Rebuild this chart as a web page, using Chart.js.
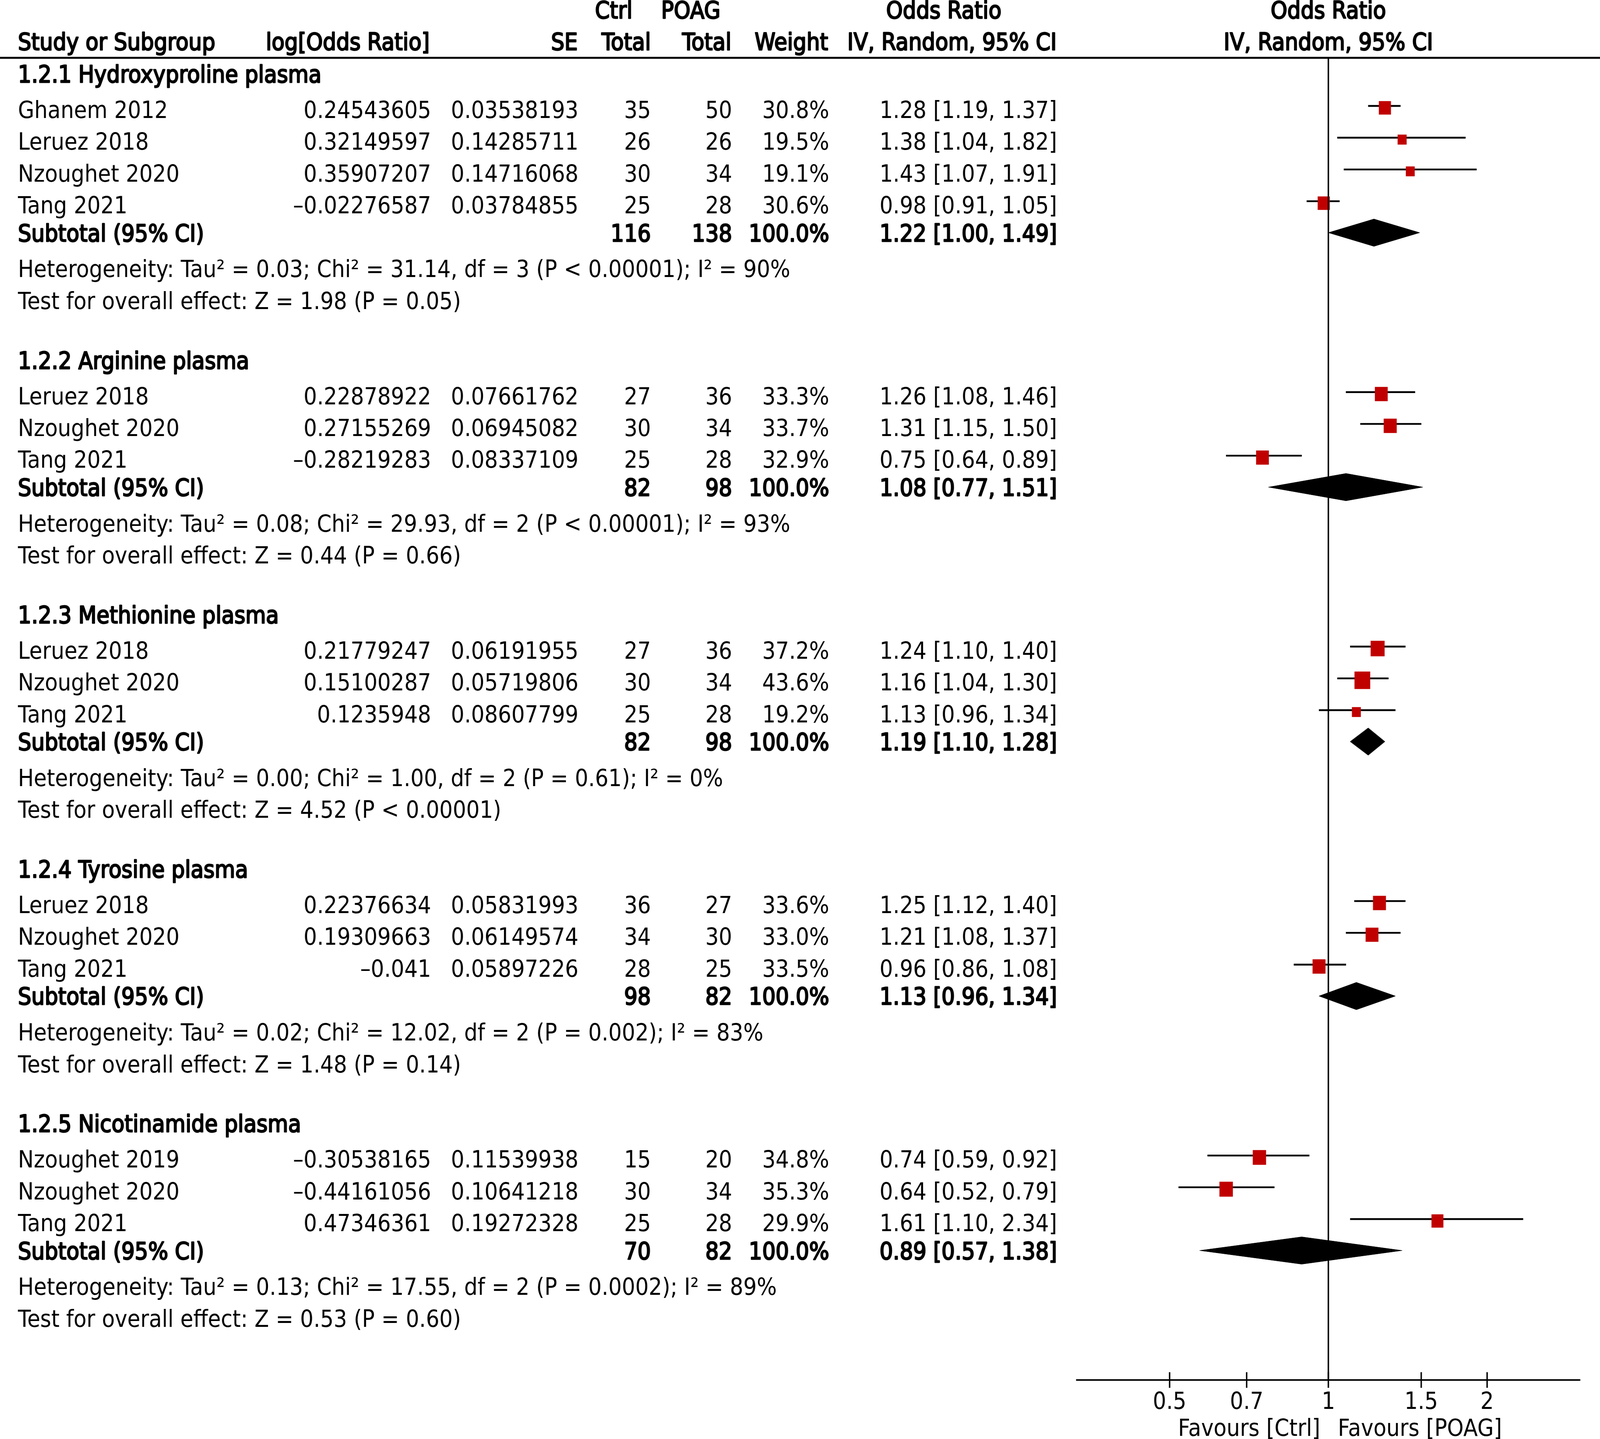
<!DOCTYPE html>
<html>
<head>
<meta charset="utf-8">
<script src="https://cdn.jsdelivr.net/npm/chart.js@4.4.1/dist/chart.umd.min.js"></script>
<style>
  html, body { margin: 0; padding: 0; background: #fff; overflow: hidden; }
  #wrap { width: 100vw; height: 100vh; }
  #forest { display: block; width: 100%; height: 100%; }
</style>
</head>
<body>
<div id="wrap"><canvas id="forest" width="4550" height="3683" style="width:100%;height:100%"></canvas></div>
<script>
// subgroups
const groupTitles = [
    '1.2.1 Hydroxyproline plasma',
    '1.2.2 Arginine plasma',
    '1.2.3 Methionine plasma',
    '1.2.4 Tyrosine plasma',
    '1.2.5 Nicotinamide plasma'
];

// studies
const studyGroup = [0, 0, 0, 0, 1, 1, 1, 2, 2, 2, 3, 3, 3, 4, 4, 4];
const studyNames = [
    'Ghanem 2012', 'Leruez 2018', 'Nzoughet 2020', 'Tang 2021',
    'Leruez 2018', 'Nzoughet 2020', 'Tang 2021',
    'Leruez 2018', 'Nzoughet 2020', 'Tang 2021',
    'Leruez 2018', 'Nzoughet 2020', 'Tang 2021',
    'Nzoughet 2019', 'Nzoughet 2020', 'Tang 2021'
];
const logOR = [
    0.24543605, 0.32149597, 0.35907207, -0.02276587,
    0.22878922, 0.27155269, -0.28219283,
    0.21779247, 0.15100287, 0.1235948,
    0.22376634, 0.19309663, -0.041,
    -0.30538165, -0.44161056, 0.47346361
];
const seVals = [
    0.03538193, 0.14285711, 0.14716068, 0.03784855,
    0.07661762, 0.06945082, 0.08337109,
    0.06191955, 0.05719806, 0.08607799,
    0.05831993, 0.06149574, 0.05897226,
    0.11539938, 0.10641218, 0.19272328
];
const ctrlTotal = [35, 26, 30, 25, 27, 30, 25, 27, 30, 25, 36, 34, 28, 15, 30, 25];
const poagTotal = [50, 26, 34, 28, 36, 34, 28, 36, 34, 28, 27, 30, 25, 20, 34, 28];
const weights = [30.8, 19.5, 19.1, 30.6, 33.3, 33.7, 32.9, 37.2, 43.6, 19.2, 33.6, 33.0, 33.5, 34.8, 35.3, 29.9];
const orVals = [1.28, 1.38, 1.43, 0.98, 1.26, 1.31, 0.75, 1.24, 1.16, 1.13, 1.25, 1.21, 0.96, 0.74, 0.64, 1.61];
const orLow  = [1.19, 1.04, 1.07, 0.91, 1.08, 1.15, 0.64, 1.10, 1.04, 0.96, 1.12, 1.08, 0.86, 0.59, 0.52, 1.10];
const orHigh = [1.37, 1.82, 1.91, 1.05, 1.46, 1.50, 0.89, 1.40, 1.30, 1.34, 1.40, 1.37, 1.08, 0.92, 0.79, 2.34];

// subtotals
const subCtrl = [116, 82, 82, 98, 70];
const subPoag = [138, 98, 98, 82, 82];
const subOR   = [1.22, 1.08, 1.19, 1.13, 0.89];
const subLow  = [1.00, 0.77, 1.10, 0.96, 0.57];
const subHigh = [1.49, 1.51, 1.28, 1.34, 1.38];

// heterogeneity / overall effect
const hetTau2 = ['0.03', '0.08', '0.00', '0.02', '0.13'];
const hetChi2 = ['31.14', '29.93', '1.00', '12.02', '17.55'];
const hetDf   = [3, 2, 2, 2, 2];
const hetP    = ['< 0.00001', '< 0.00001', '= 0.61', '= 0.002', '= 0.0002'];
const hetI2   = [90, 93, 0, 83, 89];
const testZ   = ['1.98', '0.44', '4.52', '1.48', '0.53'];
const testP   = ['= 0.05', '= 0.66', '< 0.00001', '= 0.14', '= 0.60'];

// x axis
const tickValues = [0.5, 0.7, 1, 1.5, 2];
const labelLeft = 'Favours [Ctrl]';
const labelRight = 'Favours [POAG]';

// ---- layout (row units) ----
const FONT = '"DejaVu Sans"';
const Y_MAX = 41.62;
const studyY = [];
const headerY = [];
const subY = [];
const hetY = [];
const testY = [];
let cursor = 0.504;
groupTitles.forEach((t, g) => {
    headerY.push(cursor);
    cursor += 1.12;
    let last = cursor;
    studyGroup.forEach((sg, i) => {
        if (sg === g) {
            studyY[i] = cursor;
            last = cursor;
            cursor += 1;
        }
    });
    subY.push(last + 0.88);
    hetY.push(last + 0.88 + 1.13);
    testY.push(last + 0.88 + 1.13 + 1);
    cursor = last + 0.88 + 1.13 + 1 + 1.88;
});

// 列の右端 (column right edges)
const COL = { name: 51, logOR: 1226, se: 1645, ctrl: 1851, poag: 2082, weight: 2358, or: 3006 };

const fmtNum = v => String(v).replace('-', '\u2013');

// 信頼区間 (floating bars)
const ciData = studyNames.map((n, i) => ({ x: [orLow[i], orHigh[i]], y: studyY[i] - 0.11 }));
// 点推定 (squares)
const pointData = studyNames.map((n, i) => ({ x: orVals[i], y: studyY[i] - 0.05 }));
// subtotal diamonds
const diamondSets = subOR.map((v, g) => ({
    type: 'line',
    data: [
        { x: subLow[g], y: subY[g] },
        { x: v, y: subY[g] - 0.43 },
        { x: subHigh[g], y: subY[g] },
        { x: v, y: subY[g] + 0.43 },
        { x: subLow[g], y: subY[g] }
    ],
    borderColor: '#000',
    backgroundColor: '#000',
    borderWidth: 1,
    pointRadius: 0,
    tension: 0,
    fill: 'shape',
    order: 2
}));

// table text and reference lines
const tablePlugin = {
    id: 'forestTable',
    afterDraw(chart) {
        const ctx = chart.ctx;
        const xs = chart.scales.x;
        const ys = chart.scales.y;
        const area = chart.chartArea;
        const nullX = xs.getPixelForValue(1);
        const base = v => ys.getPixelForValue(v) + 22;

        // bold = regular glyphs with a thickening stroke (as in the original image)
        const text = (s, x, y, align, bold) => {
            ctx.font = '60px ' + FONT;
            ctx.textAlign = align;
            ctx.textBaseline = 'alphabetic';
            ctx.fillStyle = '#000';
            ctx.fillText(s, x, y);
            if (bold) {
                ctx.strokeStyle = '#000';
                ctx.lineWidth = 3;
                ctx.lineJoin = 'round';
                ctx.strokeText(s, x, y);
            }
        };
        const ciText = (o, l, h) => o.toFixed(2) + ' [' + l.toFixed(2) + ', ' + h.toFixed(2) + ']';

        ctx.save();
        // header
        text('Ctrl', 1692, 47, 'left', true);
        text('POAG', 1880, 47, 'left', true);
        text('Odds Ratio', 2684, 47, 'center', true);
        text('Odds Ratio', nullX, 47, 'center', true);
        text('Study or Subgroup', COL.name, 128, 'left', true);
        text('log[Odds Ratio]', 1222, 128, 'right', true);
        text('SE', COL.se - 2, 128, 'right', true);
        text('Total', COL.ctrl, 128, 'right', true);
        text('Total', COL.poag - 2, 128, 'right', true);
        text('Weight', COL.weight - 3, 128, 'right', true);
        text('IV, Random, 95% CI', COL.or - 1, 128, 'right', true);
        text('IV, Random, 95% CI', nullX, 128, 'center', true);

        // rule under header
        ctx.strokeStyle = '#000';
        ctx.lineWidth = 5;
        ctx.beginPath();
        ctx.moveTo(0, area.top);
        ctx.lineTo(chart.width, area.top);
        ctx.stroke();

        // rows
        groupTitles.forEach((t, g) => {
            text(t, COL.name, base(headerY[g]), 'left', true);
            const sy = base(subY[g]);
            text('Subtotal (95% CI)', COL.name, sy, 'left', true);
            text(String(subCtrl[g]), COL.ctrl, sy, 'right', true);
            text(String(subPoag[g]), COL.poag, sy, 'right', true);
            text('100.0%', COL.weight, sy, 'right', true);
            text(ciText(subOR[g], subLow[g], subHigh[g]), COL.or, sy, 'right', true);
            text('Heterogeneity: Tau\u00b2 = ' + hetTau2[g] + '; Chi\u00b2 = ' + hetChi2[g] + ', df = ' + hetDf[g] +
                 ' (P ' + hetP[g] + '); I\u00b2 = ' + hetI2[g] + '%', COL.name, base(hetY[g]), 'left', false);
            text('Test for overall effect: Z = ' + testZ[g] + ' (P ' + testP[g] + ')', COL.name, base(testY[g]), 'left', false);
        });
        studyNames.forEach((n, i) => {
            const y = base(studyY[i]);
            text(n, COL.name, y, 'left', false);
            text(fmtNum(logOR[i]), COL.logOR, y, 'right', false);
            text(fmtNum(seVals[i]), COL.se, y, 'right', false);
            text(String(ctrlTotal[i]), COL.ctrl, y, 'right', false);
            text(String(poagTotal[i]), COL.poag, y, 'right', false);
            text(weights[i].toFixed(1) + '%', COL.weight, y, 'right', false);
            text(ciText(orVals[i], orLow[i], orHigh[i]), COL.or, y, 'right', false);
        });

        // null line
        ctx.strokeStyle = '#000';
        ctx.lineWidth = 4;
        ctx.beginPath();
        ctx.moveTo(nullX, area.top);
        ctx.lineTo(nullX, area.bottom);
        ctx.stroke();

        // tick marks across the axis
        tickValues.forEach(v => {
            const px = xs.getPixelForValue(v);
            ctx.beginPath();
            ctx.moveTo(px, area.bottom - 20);
            ctx.lineTo(px, area.bottom + 20);
            ctx.stroke();
        });

        // favours labels
        text(labelLeft, nullX - 23, 3675, 'right', false);
        text(labelRight, nullX + 27, 3675, 'left', false);
        ctx.restore();
    }
};

Chart.defaults.font.family = FONT;
Chart.defaults.color = '#000';

new Chart(document.getElementById('forest'), {
    type: 'scatter',
    data: {
        datasets: [
            {
                type: 'scatter',
                data: pointData,
                pointStyle: 'rect',
                backgroundColor: '#C00000',
                borderWidth: 0,
                pointBorderWidth: 0,
                pointRadius: ctx => (10 + 0.8 * weights[ctx.dataIndex]) / Math.SQRT2,
                order: 0
            },
            {
                type: 'bar',
                indexAxis: 'y',
                data: ciData,
                backgroundColor: '#000',
                borderWidth: 0,
                barThickness: 4,
                grouped: false,
                order: 1
            },
            ...diamondSets
        ]
    },
    options: {
        responsive: false,
        devicePixelRatio: 1,
        animation: false,
        layout: { padding: { left: 3062, right: 57, top: 148, bottom: 0 } },
        plugins: { legend: { display: false }, tooltip: { enabled: false } },
        scales: {
            x: {
                type: 'logarithmic',
                position: 'bottom',
                min: 1 / 3,
                max: 3,
                bounds: 'data',
                offset: false,
                grid: { display: false, drawTicks: false, offset: false },
                border: { display: true, color: '#000', width: 4 },
                ticks: {
                    autoSkip: false,
                    maxRotation: 0,
                    padding: 22,
                    font: { size: 60 },
                    color: '#000',
                    callback: v => String(v)
                },
                afterBuildTicks: scale => {
                    scale.ticks = tickValues.map(v => ({ value: v }));
                },
                afterFit: scale => { scale.height = 151; }
            },
            y: {
                type: 'linear',
                min: 0,
                max: Y_MAX,
                reverse: true,
                offset: false,
                grid: { offset: false },
                display: false
            }
        }
    },
    plugins: [tablePlugin]
});
</script>
</body>
</html>
